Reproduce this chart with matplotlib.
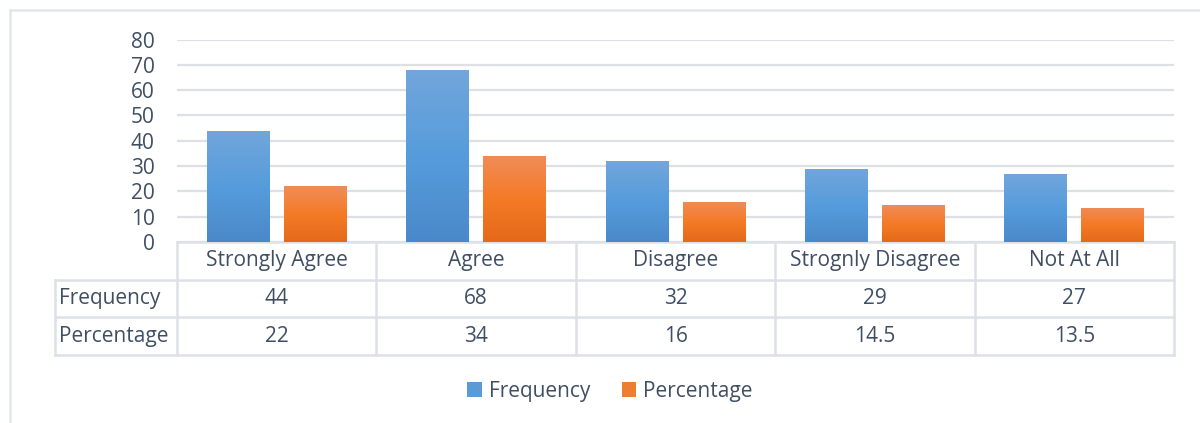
import matplotlib
matplotlib.use("Agg")
import matplotlib.pyplot as plt
import matplotlib.transforms as mtransforms
from matplotlib.colors import LinearSegmentedColormap
from matplotlib.patches import Rectangle
from matplotlib.lines import Line2D
import numpy as np

categories = ["Strongly Agree", "Agree", "Disagree", "Strognly Disagree", "Not At All"]
series_names = ["Frequency", "Percentage"]
frequency = [44, 68, 32, 29, 27]
percentage = [22, 34, 16, 14.5, 13.5]
freq_labels = ["44", "68", "32", "29", "27"]
perc_labels = ["22", "34", "16", "14.5", "13.5"]
yticks = [0, 10, 20, 30, 40, 50, 60, 70, 80]

plt.rcParams['font.family'] = ['Open Sans', 'DejaVu Sans']
TXT = "#3F4E63"
GRID = "#DDE1E7"

W, H = 1200, 423
fig = plt.figure(figsize=(W / 100, H / 100), dpi=100)
fig.patch.set_facecolor("white")

left, right, top, bottom = 177, 1174, 39.5, 242
ax = fig.add_axes([left / W, 1 - bottom / H, (right - left) / W, (bottom - top) / H])
ax.set_xlim(-0.5, len(categories) - 0.5)
ax.set_ylim(0, 80)
ax.set_yticks(yticks)
ax.set_yticklabels([str(t) for t in yticks], fontsize=15, color=TXT)
ax.tick_params(axis='y', length=0, pad=16)
ax.set_xticks([])
for s in ax.spines.values():
    s.set_visible(False)
ax.grid(axis='y', color=GRID, linewidth=1.6)
ax.set_axisbelow(True)

blue_cmap = LinearSegmentedColormap.from_list("b", ["#4A89C9", "#569CDC", "#72A6DB"])
orange_cmap = LinearSegmentedColormap.from_list("o", ["#E4691A", "#F47B26", "#F08C59"])

bw = 0.315
off = 0.193
x = np.arange(len(categories))
grad = np.linspace(0, 1, 256).reshape(-1, 1)
for vals, dx, cmap, c in [(frequency, -off, blue_cmap, "#5B9BD5"), (percentage, off, orange_cmap, "#ED7D31")]:
    bars = ax.bar(x + dx, vals, width=bw, color=c, zorder=2)
    for b in bars:
        bx, by = b.get_x(), b.get_y()
        bwid, bh = b.get_width(), b.get_height()
        im = ax.imshow(grad, cmap=cmap, origin='lower', aspect='auto',
                       extent=[bx, bx + bwid, by, by + bh], zorder=3)
        im.set_clip_path(b)
ax.set_xlim(-0.5, len(categories) - 0.5)
ax.set_ylim(0, 80)

# data table below axes
trans = mtransforms.blended_transform_factory(ax.transData, ax.transAxes)
ah = bottom - top
def yf(px):
    return -(px - bottom) / ah

rows = [242, 279.5, 317, 355]
label_left = -0.5 - (left - 55) / ((right - left) / len(categories))
lw = 1.8
ax.add_line(Line2D([-0.5, len(categories) - 0.5], [yf(rows[0])] * 2, transform=trans, color=GRID, lw=lw, clip_on=False))
for r in rows[1:]:
    ax.add_line(Line2D([label_left, len(categories) - 0.5], [yf(r)] * 2, transform=trans, color=GRID, lw=lw, clip_on=False))
for i in range(len(categories) + 1):
    ax.add_line(Line2D([i - 0.5] * 2, [yf(rows[0]), yf(rows[3])], transform=trans, color=GRID, lw=lw, clip_on=False))
ax.add_line(Line2D([label_left] * 2, [yf(rows[1]), yf(rows[3])], transform=trans, color=GRID, lw=lw, clip_on=False))

fs = 15
for i, cat in enumerate(categories):
    ax.text(i, yf((rows[0] + rows[1]) / 2), cat, transform=trans, ha='center', va='center', fontsize=fs, color=TXT)
    ax.text(i, yf((rows[1] + rows[2]) / 2), freq_labels[i], transform=trans, ha='center', va='center', fontsize=fs, color=TXT)
    ax.text(i, yf((rows[2] + rows[3]) / 2), perc_labels[i], transform=trans, ha='center', va='center', fontsize=fs, color=TXT)
for j, name in enumerate(series_names):
    ax.text(label_left + 0.02, yf((rows[j + 1] + rows[j + 2]) / 2), name, transform=trans,
            ha='left', va='center', fontsize=fs, color=TXT)

# legend
handles = [Rectangle((0, 0), 1, 1, facecolor="#5B9BD5"), Rectangle((0, 0), 1, 1, facecolor="#ED7D31")]
fig.legend(handles, series_names, loc='center', bbox_to_anchor=(610 / W, 1 - 391 / H), ncol=2,
           frameon=False, fontsize=fs, labelcolor=TXT, handlelength=0.7, handleheight=0.7,
           handletextpad=0.35, columnspacing=1.5)

# outer chart border (top and left)
fig.add_artist(Line2D([9.5 / W, 1.0], [1 - 10 / H] * 2, transform=fig.transFigure, color="#E2E6EC", lw=1.8))
fig.add_artist(Line2D([9.5 / W] * 2, [1 - 10 / H, 0], transform=fig.transFigure, color="#E2E6EC", lw=1.8))

fig.savefig("out.png", dpi=100, facecolor="white")
